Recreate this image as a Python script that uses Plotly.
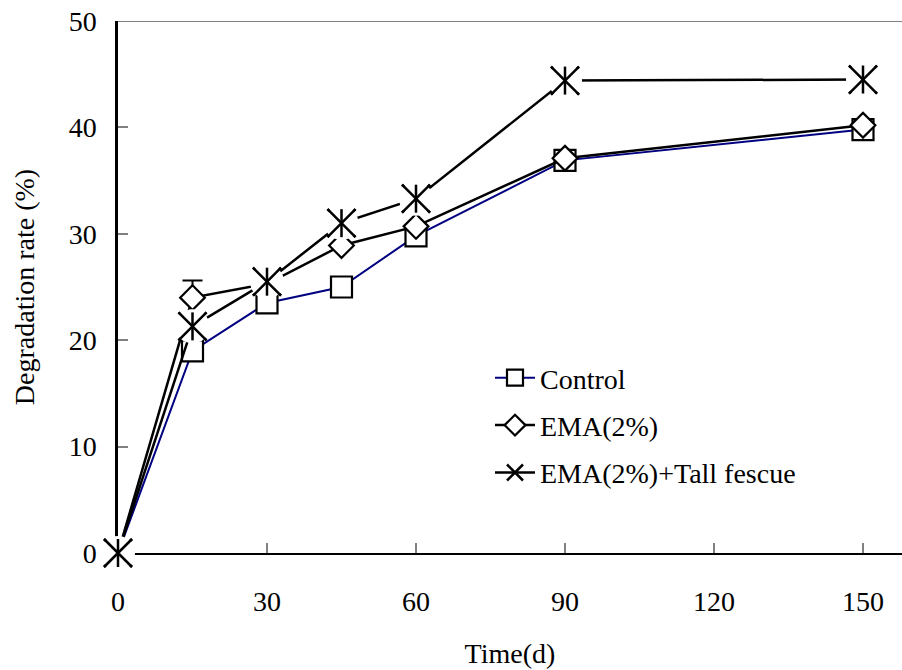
import plotly.graph_objects as go

days = [0, 15, 30, 45, 60, 90, 150]
control = [0, 19.0, 23.5, 25.0, 29.8, 36.9, 39.8]
ema = [0, 24.0, 25.3, 28.9, 30.7, 37.1, 40.2]
ema_err_plus = [0, 1.6, 0, 0, 0, 0, 0]
ema_fescue = [0, 21.3, 25.5, 31.0, 33.3, 44.4, 44.5]

x_ticks = [0, 30, 60, 90, 120, 150]
y_ticks = [0, 10, 20, 30, 40, 50]

FONT = "Liberation Serif, Times New Roman, serif"
FS = 28

fig = go.Figure()

fig.add_trace(go.Scatter(
    x=days, y=control, name="Control", mode="lines+markers",
    legendgroup="a",
    line=dict(color="#000080", width=2),
    marker=dict(symbol="square", size=21, color="white",
                line=dict(color="black", width=2.2)),
    cliponaxis=False,
))

fig.add_trace(go.Scatter(
    x=days, y=ema, name="EMA(2%)", mode="lines+markers",
    legendgroup="b",
    line=dict(color="black", width=2.5),
    marker=dict(symbol="diamond", size=19, color="white",
                line=dict(color="black", width=2.2)),
    error_y=dict(type="data", symmetric=False, array=ema_err_plus,
                 arrayminus=[0] * len(days), color="black",
                 thickness=2, width=10),
    cliponaxis=False,
))

# third series: line (with legend entry)
fig.add_trace(go.Scatter(
    x=days, y=ema_fescue, name="EMA(2%)+Tall fescue", mode="lines+markers",
    legendgroup="c",
    line=dict(color="black", width=2.5),
    marker=dict(symbol="x-thin-open", size=28, color="black",
                line=dict(color="black", width=2.5)),
    cliponaxis=False,
))
# white gap around the star markers
fig.add_trace(go.Scatter(
    x=days, y=ema_fescue, mode="markers", showlegend=False,
    legendgroup="c",
    marker=dict(symbol="circle", size=34, color="white",
                line=dict(width=0)),
    cliponaxis=False, hoverinfo="skip",
))
fig.add_trace(go.Scatter(
    x=days, y=ema_fescue, mode="markers", showlegend=False,
    legendgroup="c",
    marker=dict(symbol="line-ns-open", size=20, color="black",
                line=dict(color="black", width=2.5)),
    cliponaxis=False, hoverinfo="skip",
))
fig.add_trace(go.Scatter(
    x=days, y=ema_fescue, mode="markers", showlegend=False,
    legendgroup="c",
    marker=dict(symbol="x-thin-open", size=28, color="black",
                line=dict(color="black", width=2.5)),
    cliponaxis=False, hoverinfo="skip",
))

fig.update_layout(
    width=902, height=670,
    margin=dict(l=118, r=0, t=21, b=117, autoexpand=False),
    paper_bgcolor="white", plot_bgcolor="white",
    font=dict(family=FONT, size=FS, color="black"),
    showlegend=True,
    legend=dict(
        x=(490 - 118) / 784, xanchor="left",
        y=(553 - 353) / 532, yanchor="top",
        bgcolor="rgba(0,0,0,0)", borderwidth=0,
        font=dict(family=FONT, size=FS, color="black"),
        itemwidth=40, tracegroupgap=8, traceorder="grouped",
    ),
    xaxis=dict(
        range=[0, 784 / ((863 - 118) / 150)],
        tickmode="array", tickvals=x_ticks, ticktext=[str(v) for v in x_ticks],
        ticks="inside", ticklen=10, tickwidth=1.5, tickcolor="#808080",
        showline=True, linecolor="black", linewidth=2,
        showgrid=False, zeroline=False, layer="below traces",
        ticklabelstandoff=22, automargin=False,
        title=dict(text="Time(d)", standoff=28,
                   font=dict(family=FONT, size=FS)),
    ),
    yaxis=dict(
        range=[0, 50],
        tickmode="array", tickvals=y_ticks, ticktext=[str(v) for v in y_ticks],
        ticks="inside", ticklen=10, tickwidth=1.5, tickcolor="#808080",
        showline=True, linecolor="black", linewidth=2.5,
        showgrid=False, zeroline=False, layer="below traces",
        ticklabelstandoff=13, automargin=False,
        title=dict(text="Degradation rate (%)", standoff=26,
                   font=dict(family=FONT, size=FS)),
    ),
    shapes=[dict(type="line", xref="paper", yref="y", x0=0, x1=1,
                 y0=50, y1=50, line=dict(color="#808080", width=2),
                 layer="below")],
)

fig.write_html("out.html",
               config={"displayModeBar": False},
               post_script="document.body.style.margin='0';"
                           "document.body.style.overflow='hidden';")
